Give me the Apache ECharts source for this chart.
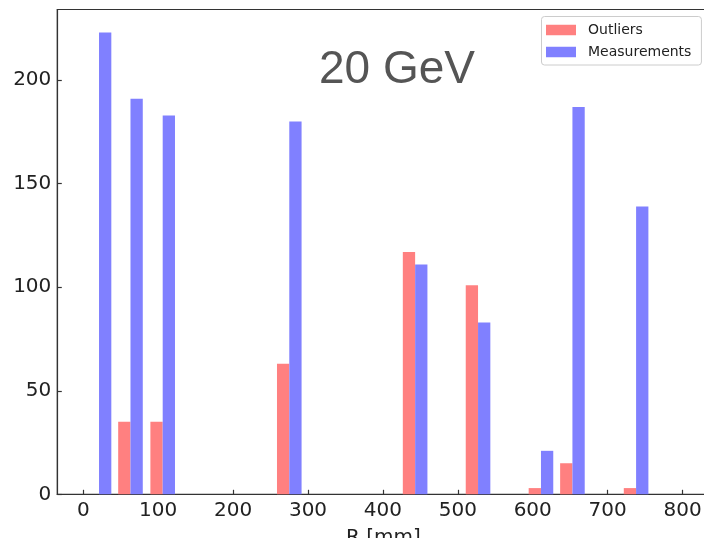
<!DOCTYPE html>
<html>
<head>
<meta charset="utf-8">
<script src="https://cdn.jsdelivr.net/npm/echarts@6/dist/echarts.min.js"></script>
<style>
html,body{margin:0;padding:0;background:#fff;overflow:hidden;}
#chart{width:704px;height:538px;}
</style>
</head>
<body>
<div id="chart"></div>
<script>
// Bin centers (R in mm) of the non-empty histogram bins
var binCenters = [21, 63, 106, 275, 443, 527, 611, 653, 738];
var outliers = [0, 35, 35, 63, 117, 101, 3, 15, 3];
var measurements = [223, 191, 183, 180, 111, 83, 21, 187, 139];
var xTicks = [0, 100, 200, 300, 400, 500, 600, 700, 800];
var yTicks = [0, 50, 100, 150, 200];
var seriesNames = ['Outliers', 'Measurements'];
var titleText = '20 GeV';
var xName = 'R [mm]';

function pairs(xs, ys) { return xs.map(function (x, i) { return [x, ys[i]]; }); }

var chart = echarts.init(document.getElementById('chart'), null, {renderer: 'canvas'});
var axisColor = '#333';
var labelFont = {fontFamily: 'DejaVu Sans', fontSize: 20, color: '#222'};

chart.setOption({
  animation: false,
  backgroundColor: '#fff',
  grid: {left: 57.3, top: 9.5, bottom: 43.7, right: -5.5, show: true, borderColor: axisColor, borderWidth: 1.2,
    containLabel: false, outerBoundsMode: 'none'},
  legend: {
    orient: 'vertical', left: 541.5, top: 16.5,
    data: seriesNames,
    itemWidth: 30, itemHeight: 10.5, itemGap: 8,
    icon: 'rect',
    borderColor: '#cccccc', borderWidth: 1, borderRadius: 3,
    padding: [6.5, 10, 6, 4.5],
    backgroundColor: 'rgba(255,255,255,0.8)',
    textStyle: {fontFamily: 'DejaVu Sans', fontSize: 14, color: '#222', padding: [0, 0, 0, 7]},
    selectedMode: false
  },
  graphic: [{
    type: 'text',
    style: {text: titleText, x: 397, y: 70, align: 'center', verticalAlign: 'middle',
      font: '46px "Liberation Sans", Arial, sans-serif', fill: '#555'}
  }],
  xAxis: {
    type: 'value', min: -34.7, max: 836,
    name: xName, nameLocation: 'middle', nameGap: 33,
    nameTextStyle: {fontFamily: 'DejaVu Sans', fontSize: 20, color: '#222'},
    axisLine: {show: true, onZero: false, lineStyle: {color: axisColor, width: 1.2}},
    axisTick: {show: true, inside: true, length: 4.5, lineStyle: {color: axisColor, width: 1.2}, customValues: xTicks},
    axisLabel: Object.assign({margin: 6, customValues: xTicks}, labelFont),
    splitLine: {show: false}
  },
  yAxis: {
    type: 'value', min: 0, max: 234.15,
    axisLine: {show: true, onZero: false, lineStyle: {color: axisColor, width: 1.2}},
    axisTick: {show: true, inside: true, length: 4.5, lineStyle: {color: axisColor, width: 1.2}, customValues: yTicks},
    axisLabel: Object.assign({margin: 6, customValues: yTicks}, labelFont),
    splitLine: {show: false}
  },
  series: [
    {name: seriesNames[0], type: 'bar', data: pairs(binCenters, outliers), barWidth: 12.3, barGap: '0%',
      itemStyle: {color: '#ff8080'}},
    {name: seriesNames[1], type: 'bar', data: pairs(binCenters, measurements), barWidth: 12.3, barGap: '0%',
      itemStyle: {color: '#8080ff'}}
  ]
});
</script>
</body>
</html>
